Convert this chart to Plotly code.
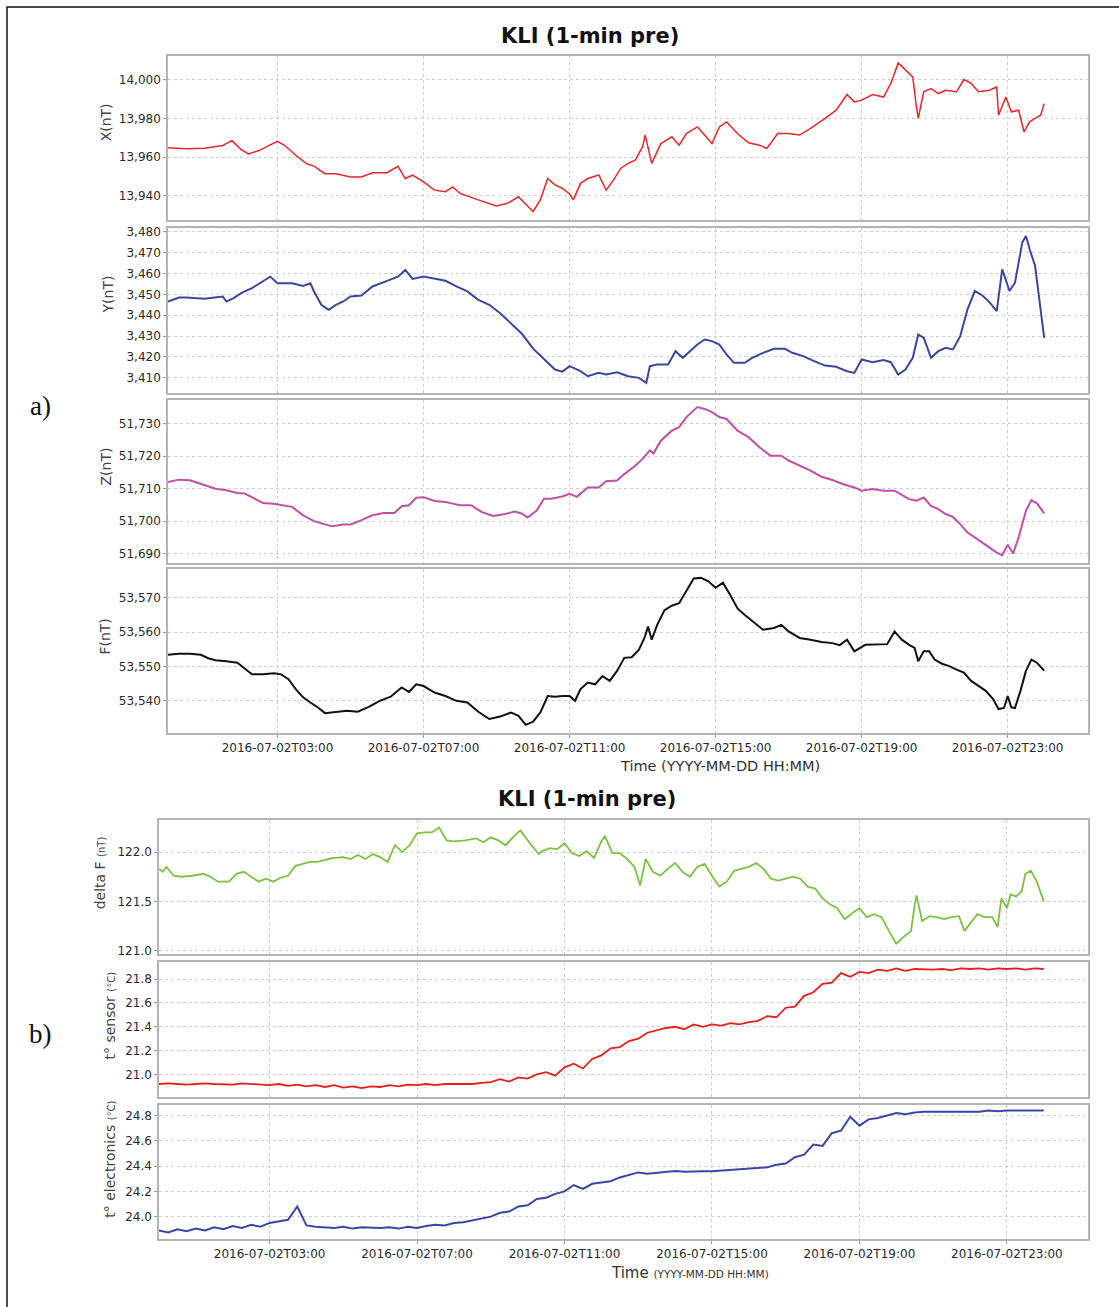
import pandas as pd
import plotly.graph_objects as go

W, H = 1119, 1307

# ---------------- data (hours after 2016-07-02 00:00) ----------------
x_hours = [0, 0.5, 1, 1.5, 1.75, 2, 2.2, 2.5, 2.8, 3, 3.2, 3.5, 3.8, 4, 4.3, 4.6, 5, 5.3, 5.6, 6, 6.3, 6.5, 6.7, 7,
           7.3, 7.6, 7.8, 8, 8.5, 9, 9.3, 9.6, 9.8, 10, 10.2, 10.4, 10.6, 10.8, 11, 11.1, 11.3, 11.5, 11.8, 12, 12.2,
           12.4, 12.6, 12.8, 13, 13.07, 13.25, 13.5, 13.8, 14, 14.2, 14.5, 14.7, 14.9, 15.1, 15.3, 15.6, 15.9, 16.2,
           16.4, 16.7, 17, 17.3, 17.6, 18, 18.3, 18.6, 18.8, 19, 19.3, 19.6, 19.8, 20, 20.2, 20.4, 20.5, 20.55, 20.7,
           20.9, 21.1, 21.3, 21.6, 21.8, 22, 22.2, 22.5, 22.7, 22.75, 22.95, 23.1, 23.3, 23.45, 23.6, 23.75, 23.9, 24]
x_values = [13964.8, 13964.3, 13964.6, 13966.0, 13968.5, 13964.0, 13961.7, 13963.4, 13966.3, 13968.2, 13966.0,
            13961.0, 13956.6, 13955.4, 13951.5, 13951.5, 13949.8, 13949.8, 13952.0, 13952.0, 13955.3, 13949.0,
            13950.7, 13947.3, 13943.0, 13942.2, 13944.7, 13941.3, 13938.0, 13934.9, 13936.2, 13939.6, 13935.7,
            13932.0, 13938.0, 13949.0, 13945.7, 13944.0, 13941.0, 13938.0, 13946.5, 13949.0, 13950.8, 13943.0,
            13948.2, 13954.2, 13956.8, 13958.5, 13965.4, 13971.4, 13956.8, 13967.0, 13970.5, 13966.2, 13972.2,
            13975.6, 13971.4, 13967.0, 13975.6, 13978.2, 13972.2, 13967.4, 13966.2, 13964.5, 13972.2, 13972.2,
            13971.4, 13974.8, 13980.0, 13984.2, 13992.3, 13988.5, 13989.4, 13992.3, 13991.0, 13998.0, 14008.6,
            14004.8, 14001.4, 13986.0, 13980.0, 13993.7, 13995.4, 13992.8, 13994.5, 13993.7, 14000.0, 13998.0,
            13993.7, 13994.5, 13996.2, 13981.6, 13991.0, 13983.4, 13984.2, 13973.0, 13978.2, 13980.0, 13981.6,
            13987.6]

y_hours = [0, 0.3, 0.5, 1, 1.5, 1.6, 1.8, 2, 2.3, 2.6, 2.8, 3, 3.2, 3.4, 3.7, 3.9, 4, 4.2, 4.4, 4.6, 4.8, 5, 5.3,
           5.6, 6, 6.3, 6.5, 6.7, 7, 7.3, 7.6, 7.9, 8.2, 8.5, 8.8, 9.1, 9.4, 9.7, 10, 10.3, 10.6, 10.8, 11, 11.3, 11.5,
           11.8, 12, 12.3, 12.6, 12.9, 13.1, 13.2, 13.4, 13.7, 13.9, 14.1, 14.3, 14.5, 14.7, 14.9, 15.1, 15.3, 15.5,
           15.8, 16, 16.3, 16.6, 16.9, 17.1, 17.4, 17.7, 18, 18.3, 18.6, 18.8, 19, 19.3, 19.6, 19.8, 20, 20.2, 20.4,
           20.55, 20.7, 20.9, 21.1, 21.3, 21.5, 21.7, 21.9, 22.1, 22.3, 22.5, 22.7, 22.85, 22.95, 23.05, 23.2, 23.4,
           23.5, 23.6, 23.75, 23.9, 24]
y_values = [3446.6, 3448.5, 3448.5, 3447.9, 3449.0, 3446.6, 3448.2, 3450.6, 3453.0, 3456.5, 3458.5, 3455.3, 3455.3,
            3455.3, 3454.0, 3455.3, 3451.4, 3445.0, 3442.6, 3445.0, 3446.6, 3449.0, 3449.5, 3453.8, 3456.5, 3458.5,
            3461.7, 3457.4, 3458.5, 3457.4, 3456.5, 3453.8, 3451.4, 3447.4, 3445.0, 3441.0, 3436.0, 3431.0, 3424.0,
            3419.0, 3414.0, 3413.0, 3415.6, 3413.2, 3410.8, 3412.4, 3411.6, 3412.7, 3410.8, 3410.0, 3407.6, 3415.6,
            3416.4, 3416.4, 3422.8, 3419.6, 3422.8, 3426.0, 3428.4, 3427.6, 3426.0, 3421.2, 3417.2, 3417.2, 3419.6,
            3422.0, 3423.9, 3423.9, 3422.0, 3420.4, 3418.0, 3415.9, 3415.3, 3413.2, 3412.4, 3418.8, 3417.5, 3418.5,
            3417.5, 3411.6, 3414.0, 3419.6, 3430.8, 3429.2, 3419.6, 3422.8, 3424.4, 3423.6, 3430.0, 3442.8, 3451.6,
            3449.6, 3446.3, 3442.0, 3462.0, 3457.2, 3451.6, 3455.6, 3474.9, 3478.0, 3471.7, 3463.7, 3441.2, 3429.2]

z_hours = [0, 0.3, 0.6, 1, 1.3, 1.6, 1.9, 2.1, 2.4, 2.6, 2.9, 3.2, 3.4, 3.7, 4, 4.3, 4.5, 4.8, 5, 5.3, 5.6, 5.9, 6.2,
           6.4, 6.6, 6.8, 7, 7.3, 7.6, 7.8, 8, 8.3, 8.6, 8.9, 9.2, 9.5, 9.7, 9.85, 10.1, 10.3, 10.5, 10.8, 11, 11.2,
           11.5, 11.8, 12, 12.3, 12.5, 12.8, 13, 13.2, 13.3, 13.5, 13.8, 14, 14.2, 14.5, 14.7, 14.9, 15.1, 15.3, 15.6,
           15.9, 16.2, 16.5, 16.8, 17, 17.3, 17.6, 17.9, 18.2, 18.5, 18.8, 19, 19.3, 19.6, 19.9, 20.1, 20.3, 20.5,
           20.7, 20.9, 21.1, 21.3, 21.5, 21.7, 21.9, 22.1, 22.3, 22.5, 22.7, 22.85, 23, 23.15, 23.3, 23.5, 23.65,
           23.8, 24]
z_values = [51712.1, 51712.8, 51712.6, 51711.0, 51710.0, 51709.5, 51708.7, 51708.5, 51706.9, 51705.6, 51705.4,
            51704.9, 51704.4, 51701.8, 51700.0, 51699.0, 51698.4, 51699.0, 51699.0, 51700.3, 51701.8, 51702.5,
            51702.5, 51704.6, 51704.9, 51707.2, 51707.4, 51706.2, 51705.9, 51705.4, 51704.9, 51704.9, 51702.8,
            51701.6, 51702.1, 51703.0, 51702.3, 51701.1, 51703.3, 51706.9, 51706.9, 51707.6, 51708.4, 51707.5,
            51710.4, 51710.4, 51712.3, 51712.5, 51714.5, 51717.1, 51719.2, 51721.8, 51720.9, 51724.8, 51727.9,
            51729.0, 51732.1, 51735.2, 51734.6, 51733.6, 51732.1, 51731.5, 51727.9, 51725.9, 51722.8, 51720.2,
            51720.2, 51718.7, 51717.1, 51715.6, 51713.7, 51712.7, 51711.4, 51710.4, 51709.4, 51709.9, 51709.4,
            51709.4, 51708.1, 51706.8, 51706.3, 51707.3, 51704.7, 51703.7, 51702.2, 51701.3, 51699.1, 51696.5,
            51695.0, 51693.4, 51691.9, 51690.3, 51689.5, 51692.7, 51690.0, 51695.0, 51703.2, 51706.5, 51705.5,
            51702.4]

f_hours = [0, 0.3, 0.6, 0.9, 1.1, 1.3, 1.6, 1.9, 2.1, 2.3, 2.6, 2.9, 3.1, 3.3, 3.5, 3.7, 3.9, 4.1, 4.3, 4.6, 4.9,
           5.2, 5.5, 5.8, 6.1, 6.4, 6.6, 6.8, 7, 7.3, 7.6, 7.9, 8.2, 8.5, 8.8, 9.1, 9.4, 9.6, 9.8, 10, 10.2, 10.4,
           10.6, 10.8, 11, 11.15, 11.3, 11.5, 11.7, 11.9, 12.1, 12.3, 12.5, 12.7, 12.9, 13.05, 13.15, 13.25, 13.4,
           13.6, 13.8, 14, 14.2, 14.4, 14.6, 14.8, 15, 15.2, 15.4, 15.6, 15.8, 16, 16.3, 16.6, 16.8, 17, 17.3, 17.6,
           17.9, 18.2, 18.4, 18.6, 18.8, 19.1, 19.4, 19.7, 19.9, 20.1, 20.3, 20.45, 20.55, 20.7, 20.85, 21, 21.2,
           21.4, 21.6, 21.8, 22, 22.2, 22.4, 22.6, 22.75, 22.9, 23, 23.1, 23.2, 23.35, 23.5, 23.65, 23.8, 24]
f_values = [53553.4, 53553.7, 53553.7, 53553.4, 53552.4, 53551.8, 53551.5, 53551.1, 53549.4, 53547.7, 53547.7,
            53548.0, 53547.7, 53546.3, 53543.4, 53541.0, 53539.5, 53538.1, 53536.4, 53536.8, 53537.1, 53536.8,
            53538.2, 53540.0, 53541.2, 53543.9, 53542.6, 53544.8, 53544.3, 53542.4, 53541.4, 53540.0, 53539.5,
            53536.8, 53534.7, 53535.4, 53536.6, 53535.6, 53533.0, 53533.9, 53536.6, 53541.4, 53541.2, 53541.4,
            53541.4, 53540.0, 53543.4, 53545.3, 53544.8, 53547.2, 53545.8, 53548.7, 53552.5, 53552.7, 53554.9,
            53558.3, 53561.6, 53557.8, 53562.1, 53566.4, 53567.7, 53568.4, 53572.2, 53575.6, 53575.8, 53574.8,
            53572.9, 53574.4, 53570.8, 53566.9, 53565.0, 53563.3, 53560.7, 53561.2, 53562.1, 53560.2, 53558.3,
            53557.8, 53557.1, 53556.8, 53556.2, 53557.8, 53554.4, 53556.3, 53556.3, 53556.5, 53560.2, 53557.8,
            53556.3, 53555.4, 53551.5, 53554.4, 53554.4, 53552.0, 53550.8, 53550.1, 53549.1, 53548.2, 53545.8,
            53544.3, 53542.9, 53540.5, 53537.6, 53537.9, 53541.4, 53538.1, 53537.9, 53542.9, 53548.7, 53552.0,
            53551.1, 53548.8]

df_hours = [0, 0.1, 0.2, 0.4, 0.6, 0.9, 1.2, 1.4, 1.6, 1.9, 2.1, 2.3, 2.5, 2.7, 2.9, 3.1, 3.3, 3.5, 3.7, 3.9, 4.1,
            4.3, 4.5, 4.7, 5, 5.2, 5.4, 5.6, 5.8, 6, 6.2, 6.4, 6.6, 6.8, 7, 7.2, 7.4, 7.6, 7.8, 8, 8.3, 8.6, 8.8, 9,
            9.2, 9.4, 9.6, 9.8, 10, 10.3, 10.4, 10.6, 10.8, 11, 11.2, 11.4, 11.6, 11.8, 12, 12.1, 12.3, 12.5, 12.7,
            12.9, 13.05, 13.2, 13.4, 13.6, 13.8, 14, 14.2, 14.4, 14.6, 14.8, 15, 15.2, 15.4, 15.6, 15.8, 16, 16.2,
            16.4, 16.6, 16.8, 17, 17.2, 17.4, 17.6, 17.8, 18, 18.2, 18.4, 18.6, 18.8, 19, 19.2, 19.4, 19.6, 19.8, 20,
            20.2, 20.4, 20.5, 20.55, 20.7, 20.9, 21.1, 21.3, 21.5, 21.7, 21.85, 22, 22.2, 22.4, 22.6, 22.75, 22.85,
            23, 23.1, 23.25, 23.4, 23.5, 23.65, 23.8, 24]
df_values = [121.83, 121.80, 121.85, 121.76, 121.75, 121.76, 121.78, 121.75, 121.70, 121.70, 121.78, 121.80, 121.75,
             121.70, 121.73, 121.70, 121.74, 121.76, 121.86, 121.88, 121.90, 121.90, 121.92, 121.94, 121.95, 121.93,
             121.97, 121.93, 121.98, 121.95, 121.90, 122.07, 122.00, 122.07, 122.19, 122.20, 122.20, 122.25, 122.12,
             122.11, 122.12, 122.14, 122.10, 122.15, 122.12, 122.07, 122.15, 122.22, 122.12, 121.98, 122.01, 122.04,
             122.03, 122.09, 121.99, 121.96, 122.01, 121.94, 122.11, 122.16, 121.99, 121.99, 121.93, 121.85, 121.66,
             121.93, 121.80, 121.76, 121.83, 121.89, 121.80, 121.75, 121.85, 121.88, 121.76, 121.65, 121.70, 121.81,
             121.83, 121.85, 121.89, 121.83, 121.73, 121.71, 121.73, 121.75, 121.73, 121.65, 121.63, 121.53, 121.47,
             121.43, 121.32, 121.38, 121.43, 121.34, 121.37, 121.34, 121.20, 121.07, 121.14, 121.20, 121.47, 121.56,
             121.30, 121.35, 121.34, 121.32, 121.34, 121.35, 121.20, 121.27, 121.37, 121.34, 121.34, 121.24, 121.53,
             121.43, 121.57, 121.55, 121.60, 121.78, 121.81, 121.71, 121.50]

# 15-minute readings, 00:00 .. 24:00
t_quarter_hours = [i * 0.25 for i in range(97)]
ts_values = [20.92, 20.925, 20.92, 20.915, 20.92, 20.925, 20.92, 20.92, 20.915, 20.925, 20.92, 20.915,
             20.91, 20.92, 20.905, 20.915, 20.90, 20.91, 20.895, 20.91, 20.89, 20.90, 20.885, 20.90,
             20.895, 20.91, 20.90, 20.915, 20.91, 20.92, 20.91, 20.92, 20.92, 20.925, 20.92, 20.93,
             20.935, 20.96, 20.94, 20.975, 20.965, 21.00, 21.02, 20.99, 21.06, 21.09, 21.05, 21.13,
             21.16, 21.22, 21.23, 21.28, 21.30, 21.35, 21.37, 21.39, 21.40, 21.38, 21.42, 21.40,
             21.42, 21.41, 21.43, 21.42, 21.44, 21.45, 21.49, 21.48, 21.56, 21.57, 21.66, 21.69,
             21.76, 21.77, 21.85, 21.82, 21.86, 21.85, 21.88, 21.87, 21.89, 21.87, 21.885, 21.88,
             21.88, 21.885, 21.875, 21.89, 21.885, 21.89, 21.88, 21.89, 21.885, 21.89, 21.88, 21.89,
             21.885]
te_values = [23.89, 23.875, 23.90, 23.885, 23.905, 23.89, 23.915, 23.90, 23.925, 23.91, 23.935, 23.92,
             23.95, 23.96, 23.975, 24.08, 23.93, 23.92, 23.915, 23.91, 23.92, 23.905, 23.915, 23.91,
             23.91, 23.915, 23.905, 23.92, 23.91, 23.925, 23.935, 23.93, 23.95, 23.955, 23.97, 23.98,
             24.00, 24.03, 24.04, 24.08, 24.09, 24.14, 24.15, 24.18, 24.20, 24.25, 24.22, 24.26,
             24.27, 24.28, 24.31, 24.33, 24.35, 24.34, 24.345, 24.35, 24.36, 24.355, 24.36, 24.36,
             24.36, 24.365, 24.37, 24.37, 24.375, 24.38, 24.39, 24.41, 24.42, 24.47, 24.49, 24.57,
             24.56, 24.66, 24.68, 24.79, 24.72, 24.77, 24.78, 24.80, 24.82, 24.81, 24.825, 24.83,
             24.83, 24.835, 24.83, 24.83, 24.835, 24.83, 24.84, 24.835, 24.84, 24.84, 24.835, 24.84,
             24.84]

x_tick_hours = [3, 7, 11, 15, 19, 23]
x_tick_text = ["2016-07-02T03:00", "2016-07-02T07:00", "2016-07-02T11:00",
               "2016-07-02T15:00", "2016-07-02T19:00", "2016-07-02T23:00"]

ticks_x = [13940, 13960, 13980, 14000]
ticks_y = [3410, 3420, 3430, 3440, 3450, 3460, 3470, 3480]
ticks_z = [51690, 51700, 51710, 51720, 51730]
ticks_f = [53540, 53550, 53560, 53570]
ticks_df = [121.0, 121.5, 122.0]
ticks_ts = [21.0, 21.2, 21.4, 21.6, 21.8]
ticks_te = [24.0, 24.2, 24.4, 24.6, 24.8]

title_text = "KLI (1-min pre)"

# ---------------- helpers ----------------
BASE = pd.Timestamp("2016-07-02 00:00")


def to_time(hours):
    return [BASE + pd.Timedelta(hours=h) for h in hours]


def px(x):
    return x / W


def py(y):
    return 1 - y / H


fig = go.Figure()

panels = [
    # name, hours, values, color, width, yrange, ticks, fmt, top px, bottom px, section
    ("X", x_hours, x_values, "#e8262b", 1.5, [13927.7, 14012.3], ticks_x, ",", 53, 218, "a"),
    ("Y", y_hours, y_values, "#3b479f", 2.0, [3402.8, 3481.9], ticks_y, ",", 226, 392, "a"),
    ("Z", z_hours, z_values, "#c24fa6", 2.0, [51687.1, 51737.4], ticks_z, ",", 399, 563, "a"),
    ("F", f_hours, f_values, "#111111", 2.0, [53530.6, 53578.4], ticks_f, ",", 569, 734, "a"),
    ("dF", df_hours, df_values, "#7cc242", 1.8, [120.967, 122.33], ticks_df, ".1f", 821, 956, "b"),
    ("tS", t_quarter_hours, ts_values, "#e81e1e", 1.8, [20.81, 21.945], ticks_ts, ".1f", 964, 1100, "b"),
    ("tE", t_quarter_hours, te_values, "#3a46a6", 2.0, [23.82, 24.883], ticks_te, ".1f", 1108, 1243, "b"),
]

grid_color = "#cfcfcf"
line_color = "#b4b4b4"
tick_font = dict(family="DejaVu Sans", size=12, color="#2a2a2a")
x_range = [BASE, BASE + pd.Timedelta(hours=25.2)]
x_tickvals = to_time(x_tick_hours)

layout = dict(width=W, height=H, margin=dict(l=0, r=0, t=0, b=0),
              paper_bgcolor="white", plot_bgcolor="white", showlegend=False)

for i, (name, hrs, vals, col, lw, yr, tks, fmt, top, bot, sec) in enumerate(panels):
    n = i + 1
    xa = "x" if n == 1 else f"x{n}"
    ya = "y" if n == 1 else f"y{n}"
    fig.add_trace(go.Scatter(x=to_time(hrs), y=vals, mode="lines", name=name,
                             line=dict(color=col, width=lw), xaxis=xa, yaxis=ya,
                             hoverinfo="x+y"))
    left = 168 if sec == "a" else 159
    show_xlabels = name in ("F", "tE")
    match = "x" if sec == "a" else "x5"
    xdict = dict(domain=[px(left), px(1088)], anchor=ya, type="date", range=x_range,
                 tickvals=x_tickvals, ticktext=x_tick_text, showticklabels=show_xlabels,
                 tickfont=tick_font, ticks="outside" if show_xlabels else "", ticklen=3,
                 tickcolor="#999999",
                 showgrid=True, gridcolor=grid_color, griddash="dot", gridwidth=1,
                 showline=True, mirror=True, linecolor=line_color, linewidth=1.5,
                 zeroline=False, fixedrange=True)
    if xa != match:
        xdict["matches"] = match
    layout["xaxis" if n == 1 else f"xaxis{n}"] = xdict
    layout["yaxis" if n == 1 else f"yaxis{n}"] = dict(
        domain=[py(bot), py(top)], anchor=xa, range=yr, tickvals=tks, tickformat=fmt,
        tickfont=tick_font, ticks="outside", ticklen=3, tickcolor="#999999",
        showgrid=True, gridcolor=grid_color, griddash="dot", gridwidth=1,
        showline=True, mirror=True, linecolor=line_color, linewidth=1.5,
        zeroline=False, fixedrange=True)

fig.update_layout(**layout)

ann = []
title_font = dict(family="DejaVu Sans", size=21, color="#111111")
ann.append(dict(text="<b>" + title_text + "</b>", x=px(590), y=py(33), font=title_font))
ann.append(dict(text="<b>" + title_text + "</b>", x=px(587), y=py(800), font=title_font))

ylab_font = dict(family="DejaVu Sans", size=14, color="#444444")
for txt, xx, yy in [("X(nT)", 106, 120), ("Y(nT)", 108, 293), ("Z(nT)", 106, 466), ("F(nT)", 105, 637)]:
    ann.append(dict(text=txt, x=px(xx), y=py(yy), textangle=-90, font=ylab_font))

small = "<span style='font-size:10px'>"
ann.append(dict(text="delta F " + small + "(nT)</span>", x=px(100), y=py(875), textangle=-90, font=ylab_font))
ann.append(dict(text="t° sensor " + small + "(°C)</span>", x=px(110), y=py(1018), textangle=-90, font=ylab_font))
ann.append(dict(text="t° electronics " + small + "(°C)</span>", x=px(110), y=py(1163), textangle=-90,
                font=ylab_font))

ann.append(dict(text="Time (YYYY-MM-DD HH:MM)", x=px(720), y=py(767),
                font=dict(family="DejaVu Sans", size=14.5, color="#333333")))
ann.append(dict(text="Time " + "<span style='font-size:10.5px'>(YYYY-MM-DD HH:MM)</span>", x=px(690), y=py(1277),
                font=dict(family="DejaVu Sans", size=15, color="#333333")))

serif = dict(family="Liberation Serif", size=27, color="#111111")
ann.append(dict(text="a)", x=px(40), y=py(405), font=serif))
ann.append(dict(text="b)", x=px(40), y=py(1037), font=serif))

for a in ann:
    a.update(xref="paper", yref="paper", showarrow=False, xanchor="center", yanchor="middle")
fig.update_layout(annotations=ann)

# outer frame of the figure
fig.add_shape(type="rect", xref="paper", yref="paper", x0=px(7), x1=px(1130), y0=py(1320), y1=py(4),
              line=dict(color="#111111", width=1.5), fillcolor="rgba(0,0,0,0)", layer="above")

fig.write_html("out.html", config={"displayModeBar": False},
               post_script="document.body.style.margin='0';document.body.style.overflow='hidden';")
